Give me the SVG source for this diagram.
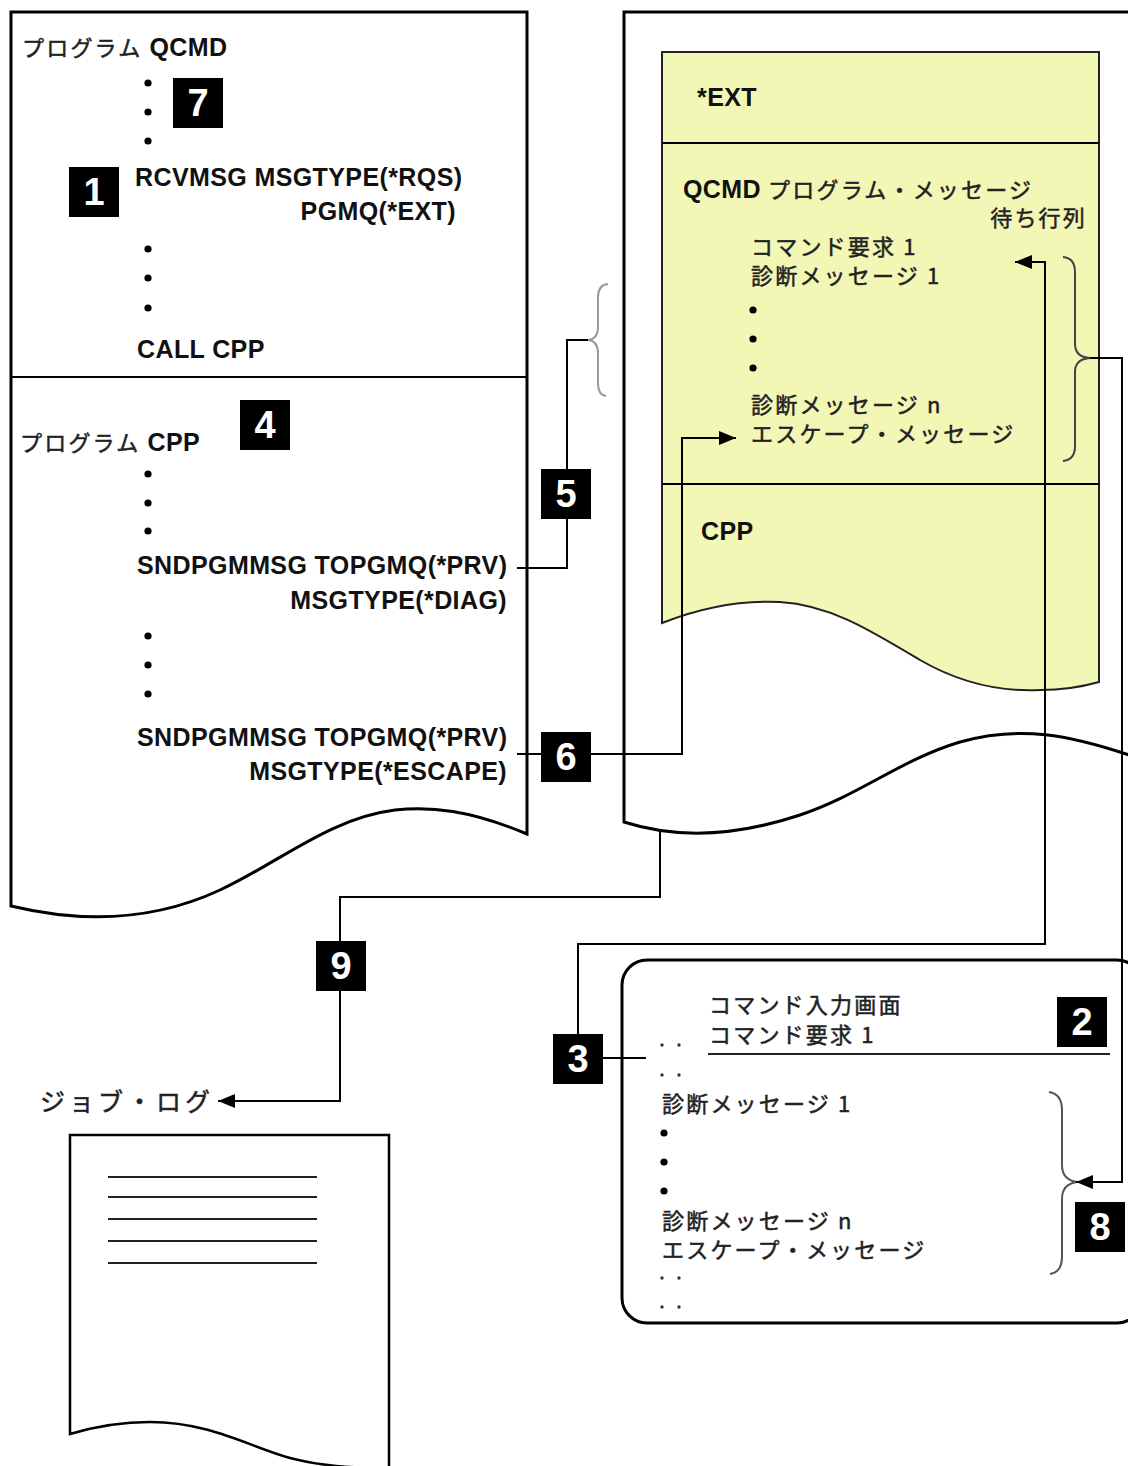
<svg xmlns="http://www.w3.org/2000/svg" width="1128" height="1466" viewBox="0 0 1128 1466">
<defs>
<marker id="ah" viewBox="0 0 17 14" refX="17" refY="7" markerWidth="17" markerHeight="14" markerUnits="userSpaceOnUse" orient="auto"><path d="M0 0 L17 7 L0 14 Z" fill="#000"/></marker>
</defs>
<style>
.box{fill:#fff;stroke:#000;stroke-width:3}
.div{stroke:#000;stroke-width:2}
.ylw{fill:#f3f7b5;stroke:#222;stroke-width:2}
.lat{font-family:"Liberation Sans",Arial,sans-serif;font-size:25px;font-weight:bold;fill:#111;letter-spacing:0.4px;stroke:none}
.jp{font-family:"Noto Sans CJK JP","Liberation Sans",sans-serif;font-size:22px;font-weight:normal;fill:#222;stroke:#222;stroke-width:0.5px;letter-spacing:2.2px}
.dot{fill:#000}
.sdot{fill:#333}
.badge rect{fill:#000}
.badge text{font-family:"Liberation Sans",Arial,sans-serif;font-size:38px;font-weight:bold;fill:#fff;text-anchor:middle}
.conn{fill:none;stroke:#000;stroke-width:2}
.brace{fill:none;stroke:#444;stroke-width:2}
.line{stroke:#222;stroke-width:2}
</style>

<g id="program-box">
<path class="box" d="M 11 12 H 527 V 834 C 470 810, 430 806, 395 810 C 330 818, 280 862, 220 890 C 160 918, 90 925, 11 906 Z"/>
<line class="div" x1="11" y1="377" x2="527" y2="377"/>
<text class="jp" x="22" y="56">プログラム <tspan class="lat">QCMD</tspan></text>
<circle class="dot" cx="148" cy="83" r="3.6"/>
<circle class="dot" cx="148" cy="112" r="3.6"/>
<circle class="dot" cx="148" cy="141" r="3.6"/>
<text class="lat" x="135" y="186">RCVMSG MSGTYPE(*RQS)</text>
<text class="lat" x="456" y="220" text-anchor="end">PGMQ(*EXT)</text>
<circle class="dot" cx="148" cy="249" r="3.6"/>
<circle class="dot" cx="148" cy="278" r="3.6"/>
<circle class="dot" cx="148" cy="308" r="3.6"/>
<text class="lat" x="137" y="358">CALL CPP</text>
<text class="jp" x="20" y="451">プログラム <tspan class="lat">CPP</tspan></text>
<circle class="dot" cx="148" cy="474" r="3.6"/>
<circle class="dot" cx="148" cy="503" r="3.6"/>
<circle class="dot" cx="148" cy="531" r="3.6"/>
<text class="lat" x="137" y="574">SNDPGMMSG TOPGMQ(*PRV)</text>
<text class="lat" x="507" y="609" text-anchor="end">MSGTYPE(*DIAG)</text>
<circle class="dot" cx="148" cy="636" r="3.6"/>
<circle class="dot" cx="148" cy="665" r="3.6"/>
<circle class="dot" cx="148" cy="694" r="3.6"/>
<text class="lat" x="137" y="746">SNDPGMMSG TOPGMQ(*PRV)</text>
<text class="lat" x="507" y="780" text-anchor="end">MSGTYPE(*ESCAPE)</text>
</g>

<g id="call-stack-box">
<path class="box" d="M 1132 12 H 624 V 822 C 680 840, 740 835, 800 815 C 860 795, 900 760, 960 742 C 1020 725, 1070 735, 1132 756 Z"/>
</g>

<g id="message-queues">
<path class="ylw" d="M 662 52 H 1099 V 682 C 1085 686, 1065 690, 1040 690 C 1000 692, 960 683, 920 660 C 870 630, 830 605, 780 602 C 740 600, 700 608, 662 623 Z"/>
<line class="div" x1="662" y1="143" x2="1099" y2="143"/>
<line class="div" x1="662" y1="484" x2="1099" y2="484"/>
<text class="lat" x="697" y="106">*EXT</text>
<text class="jp" x="683" y="198"><tspan class="lat">QCMD</tspan> プログラム・メッセージ</text>
<text class="jp" x="1087" y="226" text-anchor="end">待ち行列</text>
<text class="jp" x="751" y="255">コマンド要求 1</text>
<text class="jp" x="751" y="284">診断メッセージ 1</text>
<circle class="dot" cx="753" cy="310" r="3.6"/>
<circle class="dot" cx="753" cy="339" r="3.6"/>
<circle class="dot" cx="753" cy="368" r="3.6"/>
<text class="jp" x="751" y="413">診断メッセージ n</text>
<text class="jp" x="751" y="442">エスケープ・メッセージ</text>
<path class="brace" d="M 1063 257 Q 1075 258, 1075 272 V 344 Q 1075 357, 1090 358 Q 1075 359, 1075 372 V 446 Q 1075 460, 1063 461"/>
<text class="lat" x="701" y="540">CPP</text>
</g>

<g id="command-screen">
<rect class="box" x="622" y="960" width="520" height="363" rx="25" ry="25"/>
<text class="jp" x="709" y="1013">コマンド入力画面</text>
<text class="jp" x="709" y="1043">コマンド要求 1</text>
<line class="line" x1="708" y1="1054" x2="1110" y2="1054"/>
<circle class="sdot" cx="662" cy="1045" r="1.7"/>
<circle class="sdot" cx="679" cy="1045" r="1.7"/>
<circle class="sdot" cx="662" cy="1075" r="1.7"/>
<circle class="sdot" cx="679" cy="1075" r="1.7"/>
<text class="jp" x="662" y="1112">診断メッセージ 1</text>
<circle class="dot" cx="664" cy="1133" r="3.6"/>
<circle class="dot" cx="664" cy="1162" r="3.6"/>
<circle class="dot" cx="664" cy="1191" r="3.6"/>
<text class="jp" x="662" y="1229">診断メッセージ n</text>
<text class="jp" x="662" y="1258">エスケープ・メッセージ</text>
<circle class="sdot" cx="662" cy="1278" r="1.7"/>
<circle class="sdot" cx="679" cy="1278" r="1.7"/>
<circle class="sdot" cx="662" cy="1307" r="1.7"/>
<circle class="sdot" cx="679" cy="1307" r="1.7"/>
<path class="brace" d="M 1049 1092 Q 1062 1094, 1062 1110 V 1165 Q 1062 1180, 1077 1182 Q 1062 1184, 1062 1199 V 1257 Q 1062 1272, 1050 1274" style="stroke:#555"/>
</g>

<g id="job-log">
<text class="jp" x="40" y="1111" style="font-size:25px;letter-spacing:4px">ジョブ・ログ</text>
<path class="box" style="stroke-width:2.5" d="M 70 1135 H 389 V 1468 C 350 1468, 320 1466, 290 1458 C 250 1447, 210 1422, 150 1422 C 115 1422, 90 1428, 70 1434 Z"/>
<line class="line" x1="108" y1="1177" x2="317" y2="1177"/>
<line class="line" x1="108" y1="1197" x2="317" y2="1197"/>
<line class="line" x1="108" y1="1219" x2="317" y2="1219"/>
<line class="line" x1="108" y1="1241" x2="317" y2="1241"/>
<line class="line" x1="108" y1="1263" x2="317" y2="1263"/>
</g>

<g id="connectors">
<path class="brace" style="stroke:#999" d="M 608 284 Q 598 285, 598 297 V 327 Q 598 339, 588 340 Q 598 341, 598 353 V 383 Q 598 395, 606 396"/>
<path class="conn" d="M 517 568 H 567 V 340 H 588"/>
<path class="conn" d="M 517 754 H 682 V 438 H 736" marker-end="url(#ah)"/>
<path class="conn" d="M 646 1058 H 578 V 944 H 1045 V 262 H 1015" marker-end="url(#ah)"/>
<path class="conn" d="M 1090 358 H 1122 V 1182 H 1076" marker-end="url(#ah)"/>
<path class="conn" d="M 660 832 V 897 H 340 V 1101 H 218" marker-end="url(#ah)"/>
</g>

<g id="badge-7" class="badge"><rect x="173" y="78" width="50" height="50"/><text x="198" y="116">7</text></g>
<g id="badge-1" class="badge"><rect x="69" y="167" width="50" height="50"/><text x="94" y="205">1</text></g>
<g id="badge-4" class="badge"><rect x="240" y="400" width="50" height="50"/><text x="265" y="438">4</text></g>
<g id="badge-5" class="badge"><rect x="541" y="469" width="50" height="50"/><text x="566" y="507">5</text></g>
<g id="badge-6" class="badge"><rect x="541" y="732" width="50" height="50"/><text x="566" y="770">6</text></g>
<g id="badge-9" class="badge"><rect x="316" y="941" width="50" height="50"/><text x="341" y="979">9</text></g>
<g id="badge-3" class="badge"><rect x="553" y="1034" width="50" height="50"/><text x="578" y="1072">3</text></g>
<g id="badge-2" class="badge"><rect x="1057" y="997" width="50" height="50"/><text x="1082" y="1035">2</text></g>
<g id="badge-8" class="badge"><rect x="1075" y="1202" width="50" height="50"/><text x="1100" y="1240">8</text></g>
</svg>
